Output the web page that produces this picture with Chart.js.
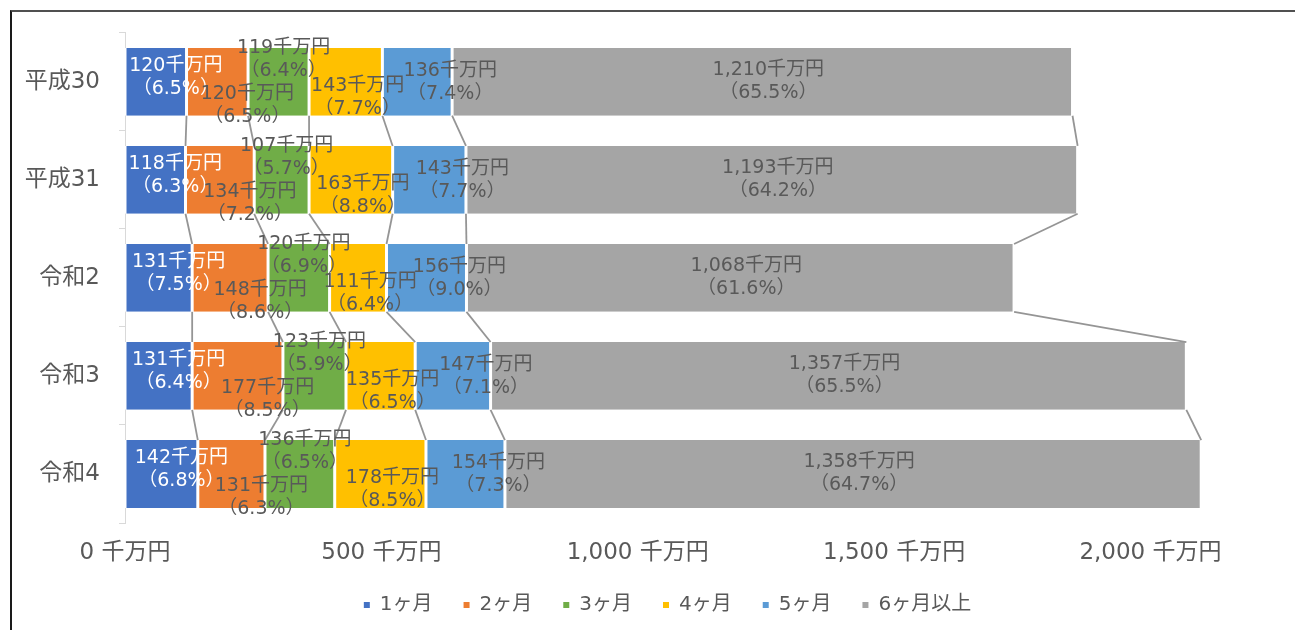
<!DOCTYPE html>
<html><head><meta charset="utf-8">
<script src="https://cdn.jsdelivr.net/npm/chart.js@4/dist/chart.umd.min.js"></script>
<style>
html,body{margin:0;padding:0;background:#fff;}
#wrap{position:relative;width:1295px;height:630px;overflow:hidden;}
#frame{position:absolute;left:10px;top:10px;width:1400px;height:700px;border-top:2px solid #505050;border-left:2px solid #1a1a1a;}
canvas{position:absolute;left:0;top:0;}
</style></head>
<body><div id="wrap"><div id="frame"></div><canvas id="c" width="1295" height="630"></canvas></div>
<script>
// ---- data ----
const categories = ['平成30', '平成31', '令和2', '令和3', '令和4'];
const seriesNames = ['1ヶ月', '2ヶ月', '3ヶ月', '4ヶ月', '5ヶ月', '6ヶ月以上'];
const month1 = [120, 118, 131, 131, 142];
const month2 = [120, 134, 148, 177, 131];
const month3 = [119, 107, 120, 123, 136];
const month4 = [143, 163, 111, 135, 178];
const month5 = [136, 143, 156, 147, 154];
const month6plus = [1210, 1193, 1068, 1357, 1358];
const pct1 = [6.5, 6.3, 7.5, 6.4, 6.8];
const pct2 = [6.5, 7.2, 8.6, 8.5, 6.3];
const pct3 = [6.4, 5.7, 6.9, 5.9, 6.5];
const pct4 = [7.7, 8.8, 6.4, 6.5, 8.5];
const pct5 = [7.4, 7.7, 9.0, 7.1, 7.3];
const pct6plus = [65.5, 64.2, 61.6, 65.5, 64.7];
const xTickValues = [0, 500, 1000, 1500, 2000];
const unit = '千万円';

// ---- styles ----
const colors = ['#4472C4', '#ED7D31', '#70AD47', '#FFC000', '#5B9BD5', '#A5A5A5'];
const labelStyle = [
  {dx: 20, dy: -4, color: '#ffffff'},
  {dx: 30, dy: 24, color: '#595959'},
  {dx: 5, dy: -22, color: '#595959'},
  {dx: 12, dy: 16, color: '#595959'},
  {dx: 33, dy: 1, color: '#595959'},
  {dx: 6, dy: 0, color: '#595959'}
];
const FONT = '"DejaVu Sans", "Noto Sans CJK JP", sans-serif';
const textGray = '#595959';

const values = [month1, month2, month3, month4, month5, month6plus];
const pcts = [pct1, pct2, pct3, pct4, pct5, pct6plus];

const datasets = seriesNames.map((name, k) => ({
  label: name,
  data: values[k],
  pcts: pcts[k],
  backgroundColor: colors[k],
  borderColor: '#ffffff',
  borderWidth: {left: 1.5, right: 1.5, top: 0, bottom: 0},
  borderSkipped: false,
  barPercentage: 0.692,
  categoryPercentage: 1.0
}));

const overlay = {
  id: 'overlay',
  afterDatasetsDraw(chart) {
    const ctx = chart.ctx;
    const metas = chart.data.datasets.map((d, k) => chart.getDatasetMeta(k));
    // series lines
    ctx.save();
    ctx.strokeStyle = '#959595';
    ctx.lineWidth = 1.8;
    metas.forEach(meta => {
      for (let i = 0; i < meta.data.length - 1; i++) {
        const a = meta.data[i].getProps(['x', 'y', 'height'], true);
        const b = meta.data[i + 1].getProps(['x', 'y', 'height'], true);
        ctx.beginPath();
        ctx.moveTo(a.x, a.y + a.height / 2);
        ctx.lineTo(b.x, b.y - b.height / 2);
        ctx.stroke();
      }
    });
    // data labels
    ctx.font = '19px ' + FONT;
    ctx.textAlign = 'center';
    ctx.textBaseline = 'middle';
    metas.forEach((meta, k) => {
      const ds = chart.data.datasets[k];
      const st = labelStyle[k];
      ctx.fillStyle = st.color;
      meta.data.forEach((el, i) => {
        const p = el.getProps(['x', 'y', 'base'], true);
        const cx = (p.x + p.base) / 2 + st.dx;
        const cy = p.y + st.dy;
        const v = ds.data[i];
        ctx.fillText(v.toLocaleString('en-US') + unit, cx, cy - 11.5);
        ctx.fillText('（' + ds.pcts[i].toFixed(1) + '%）', cx, cy + 11.5);
      });
    });
    ctx.restore();
  }
};

new Chart(document.getElementById('c'), {
  type: 'bar',
  data: {labels: categories, datasets},
  plugins: [overlay],
  options: {
    indexAxis: 'y',
    responsive: false,
    animation: false,
    layout: {padding: {left: 82, right: 42, top: 32, bottom: 5}},
    scales: {
      x: {
        stacked: true,
        min: 0,
        max: 2200,
        afterBuildTicks: s => { s.ticks = xTickValues.map(v => ({value: v})); },
        afterFit: s => { s.height = 41; s.paddingLeft = 0; s.paddingRight = 0; },
        grid: {display: false, drawTicks: false},
        border: {display: false},
        ticks: {
          padding: 16,
          color: textGray,
          font: {family: FONT, size: 23},
          maxRotation: 0,
          autoSkip: false,
          callback: v => v.toLocaleString('en-US') + ' ' + unit
        }
      },
      y: {
        stacked: true,
        afterFit: s => { s.width = 43; s._computeLabelArea = () => undefined; },
        grid: {display: true, drawOnChartArea: false, drawTicks: true, tickLength: 6, color: '#d9d9d9', offset: true},
        border: {display: true, color: '#d9d9d9'},
        ticks: {padding: 19, color: textGray, font: {family: FONT, size: 23}}
      }
    },
    plugins: {
      tooltip: {enabled: false},
      legend: {
        position: 'bottom',
        labels: {
          boxWidth: 6,
          boxHeight: 6,
          padding: 31,
          color: textGray,
          font: {family: FONT, size: 20},
          generateLabels: chart => Chart.defaults.plugins.legend.labels.generateLabels(chart).map(l => Object.assign(l, {lineWidth: 0, strokeStyle: 'rgba(0,0,0,0)'}))
        }
      }
    }
  }
});
</script>
</body></html>
